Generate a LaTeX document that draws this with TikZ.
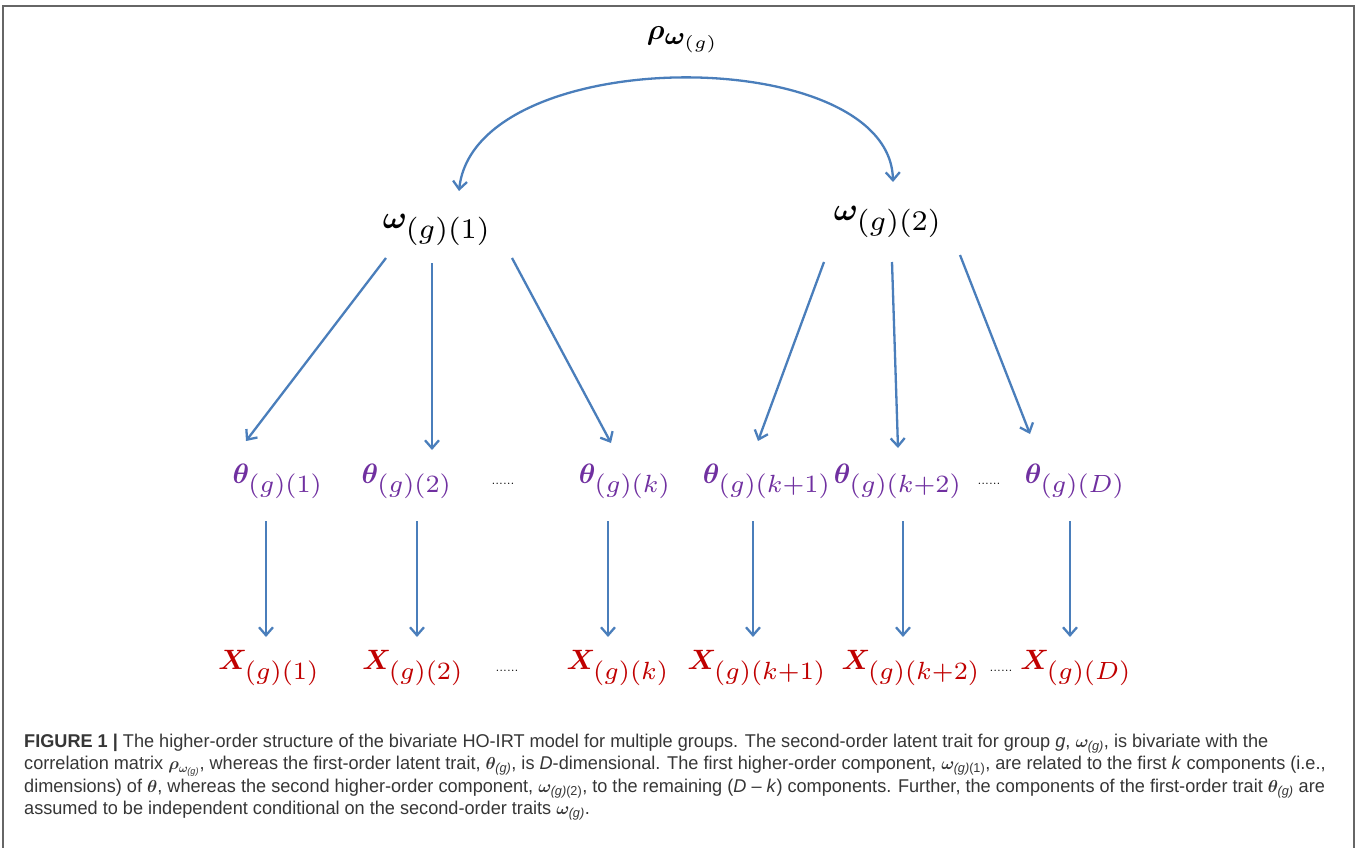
\documentclass[tikz,border=0pt]{standalone}
\usepackage{amsmath}
\usepackage{bm}
\usepackage{fontspec}
\newfontfamily\capfont[FakeStretch=0.98]{Liberation Sans}
\usetikzlibrary{arrows.meta,calc}
\definecolor{arrblue}{HTML}{4A7EBB}
\definecolor{thpurple}{HTML}{7030A0}
\definecolor{xred}{HTML}{C00000}
\definecolor{capgray}{HTML}{363636}
\definecolor{framegray}{HTML}{666666}
% main symbol, subscript
\newcommand{\lbl}[3][2.8]{\scalebox{#1}{$#2_{\scalebox{1.27}{$\scriptstyle #3$}}$}}
\newcommand{\sg}{\textit{(g)}}
\begin{document}
\begin{tikzpicture}[x=1pt,y=-1pt,
  arr/.style={draw=arrblue, line width=2.3pt, -{Straight Barb[length=8pt,width=14pt]}},
  darr/.style={draw=arrblue, line width=2.3pt, {Straight Barb[length=8pt,width=14pt]}-{Straight Barb[length=8pt,width=14pt]}},
  lab/.style={inner sep=0pt},
  th/.style={lab, text=thpurple},
  xx/.style={lab, text=xred},
  dotlab/.style={inner sep=0pt, font=\fontsize{14}{16}\selectfont},
  captext/.style={anchor=base west, inner sep=0pt, font=\capfont\fontsize{18.5}{22}\selectfont, text=capgray}]
\useasboundingbox (0,0) rectangle (1357,848);
\draw[framegray, line width=1.5pt] (3,848) -- (3,6) -- (1354,6) -- (1354,848);

% labels
\node[lab] (rho) at (683,40) {\scalebox{2.9}{$\bm{\rho}_{\scalebox{1.2}{$\scriptstyle\bm{\omega}_{(g)}$}}$}};
\node[lab] (w1) at (437,230) {\lbl[3.2]{\bm{\omega}}{(g)(1)}};
\node[lab] (w2) at (888,222) {\lbl[3.2]{\bm{\omega}}{(g)(2)}};

\node[th] (t1) at (278,481) {\lbl{\bm{\theta}}{(g)(1)}};
\node[th] (t2) at (407,481) {\lbl{\bm{\theta}}{(g)(2)}};
\node[dotlab] (td1) at (503,484) {......};
\node[th] (tk) at (625,481) {\lbl{\bm{\theta}}{(g)(k)}};
\node[th] (tk1) at (767,481) {\lbl{\bm{\theta}}{(g)(k+1)}};
\node[th] (tk2) at (898,481) {\lbl{\bm{\theta}}{(g)(k+2)}};
\node[dotlab] (td2) at (989,484) {......};
\node[th] (tD) at (1075,481) {\lbl{\bm{\theta}}{(g)(D)}};

\node[xx] (x1) at (269,668) {\lbl{\bm{X}}{(g)(1)}};
\node[xx] (x2) at (413,668) {\lbl{\bm{X}}{(g)(2)}};
\node[dotlab] (xd1) at (507,671) {......};
\node[xx] (xk) at (618,668) {\lbl{\bm{X}}{(g)(k)}};
\node[xx] (xk1) at (757,668) {\lbl{\bm{X}}{(g)(k+1)}};
\node[xx] (xk2) at (911,668) {\lbl{\bm{X}}{(g)(k+2)}};
\node[dotlab] (xd2) at (1001,671) {......};
\node[xx] (xD) at (1076,668) {\lbl{\bm{X}}{(g)(D)}};

% correlation arc
\draw[darr] ([shift={(22,-39)}]w1.center) .. controls (475,42) and (890,42) .. ([shift={(5,-40)}]w2.center);

% second-order -> first-order
\draw[arr] ([shift={(-51,28)}]w1.center) -- ([shift={(-32,-40)}]t1.center);
\draw[arr] ([shift={(-5,33)}]w1.center) -- ([shift={(25,-31)}]t2.center);
\draw[arr] ([shift={(75,28)}]w1.center) -- ([shift={(-14,-38)}]tk.center);
\draw[arr] ([shift={(-64,40)}]w2.center) -- ([shift={(-9,-40)}]tk1.center);
\draw[arr] ([shift={(4,40)}]w2.center) -- ([shift={(0,-33)}]tk2.center);
\draw[arr] ([shift={(72,33)}]w2.center) -- ([shift={(-45,-47)}]tD.center);

% first-order -> items
\draw[arr] ([shift={(-12,40)}]t1.center) -- ([shift={(-3,-31)}]x1.center);
\draw[arr] ([shift={(10,40)}]t2.center) -- ([shift={(4,-31)}]x2.center);
\draw[arr] ([shift={(-17,40)}]tk.center) -- ([shift={(-10,-31)}]xk.center);
\draw[arr] ([shift={(-14,40)}]tk1.center) -- ([shift={(-4,-31)}]xk1.center);
\draw[arr] ([shift={(5,40)}]tk2.center) -- ([shift={(-8,-31)}]xk2.center);
\draw[arr] ([shift={(-5,40)}]tD.center) -- ([shift={(-6,-31)}]xD.center);

% caption
\node[captext] (c1) at (24,747) {\textbf{FIGURE 1 |} The higher-order structure of the bivariate HO-IRT model for multiple groups. The second-order latent trait for group \textit{g}, $\bm{\omega}_{\sg}$, is bivariate with the};
\node[captext] (c2) at (24,769.5) {correlation matrix $\bm{\rho}_{\bm{\omega}_{\sg}}$, whereas the first-order latent trait, $\bm{\theta}_{\sg}$, is \textit{D}-dimensional. The first higher-order component, $\bm{\omega}_{\sg\textup{(1)}}$, are related to the first \textit{k} components (i.e.,};
\node[captext] (c3) at (24,792) {dimensions) of $\bm{\theta}$, whereas the second higher-order component, $\bm{\omega}_{\sg\textup{(2)}}$, to the remaining (\textit{D} \textendash{} \textit{k}) components. Further, the components of the first-order trait $\bm{\theta}_{\sg}$ are};
\node[captext] (c4) at (24,814.5) {assumed to be independent conditional on the second-order traits $\bm{\omega}_{\sg}$.};
\end{tikzpicture}
\end{document}
